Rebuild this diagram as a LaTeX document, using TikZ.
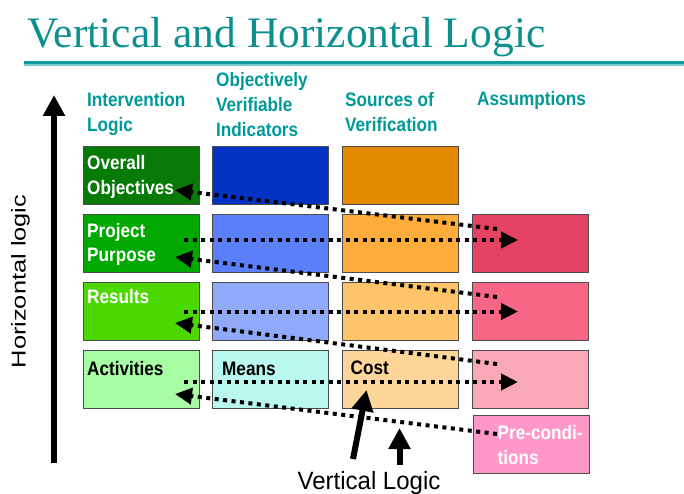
\documentclass[tikz,border=0pt]{standalone}
\usepackage{fontspec}
\setmainfont{Liberation Serif}
\newfontfamily\arialB[FakeStretch=0.88]{Liberation Sans}
\newfontfamily\arialH[FakeStretch=1.27]{Liberation Sans}
\newfontfamily\arialV[FakeStretch=0.96]{Liberation Sans}
\usetikzlibrary{arrows.meta}
\definecolor{titleteal}{RGB}{14,143,143}
\definecolor{hdrteal}{RGB}{0,153,153}
\definecolor{ruleteal}{RGB}{10,154,154}
\definecolor{rulelight}{RGB}{124,200,200}
\definecolor{cA1}{RGB}{8,122,8}
\definecolor{cB1}{RGB}{4,51,196}
\definecolor{cC1}{RGB}{227,138,0}
\definecolor{cA2}{RGB}{0,168,0}
\definecolor{cB2}{RGB}{90,127,248}
\definecolor{cC2}{RGB}{255,173,58}
\definecolor{cD2}{RGB}{228,66,98}
\definecolor{cA3}{RGB}{76,216,0}
\definecolor{cB3}{RGB}{144,168,248}
\definecolor{cC3}{RGB}{255,195,106}
\definecolor{cD3}{RGB}{248,102,134}
\definecolor{cA4}{RGB}{168,252,164}
\definecolor{cB4}{RGB}{184,248,238}
\definecolor{cC4}{RGB}{255,214,154}
\definecolor{cD4}{RGB}{248,168,182}
\definecolor{cPre}{RGB}{255,152,200}
\tikzset{
  box/.style={draw=black!70, line width=1pt, rectangle, minimum width=116pt,
    minimum height=58pt, inner sep=0pt, anchor=north west},
  hdr/.style={anchor=base west, inner sep=0pt, text=hdrteal,
    font=\arialB\bfseries\fontsize{19.5}{25}\selectfont},
  lblw/.style={anchor=base west, inner sep=0pt, text=white,
    font=\arialB\bfseries\fontsize{19.5}{25}\selectfont},
  lblk/.style={anchor=base west, inner sep=0pt, text=black,
    font=\arialB\bfseries\fontsize{19.5}{25}\selectfont},
  dotline/.style={line width=4pt, dash pattern=on 4pt off 4.5pt},
  dotarrow/.style={dotline, -{Triangle[length=17pt,width=16pt]}},
  bigarrow/.style={line width=6pt, -{Triangle[length=21pt,width=21pt]}}
}
\begin{document}
\begin{tikzpicture}[x=1pt,y=-1pt]
\useasboundingbox (0,0) rectangle (684,494);
% title
\node[anchor=base west, inner sep=0pt, text=titleteal, font=\fontsize{43.5}{50}\selectfont] (title) at (27,47.5) {Vertical and Horizontal Logic};
\fill[ruleteal] (24,61) rectangle (684,64.2);
\fill[rulelight] (24,64.2) rectangle (684,66);
% headers
\node[hdr] (h1a) at (87,107) {Intervention};
\node[hdr] (h1b) at (87,132) {Logic};
\node[hdr] (h2a) at (216,87) {Objectively};
\node[hdr] (h2b) at (216,112) {Verifiable};
\node[hdr] (h2c) at (216,137) {Indicators};
\node[hdr] (h3a) at (345,107) {Sources of};
\node[hdr] (h3b) at (345,132) {Verification};
\node[hdr] (h4a) at (477,106) {Assumptions};
% boxes
\node[box, fill=cA1] (a1) at (83,146) {};
\node[box, fill=cB1] (b1) at (212,146) {};
\node[box, fill=cC1] (c1) at (341.5,146) {};
\node[box, fill=cA2] (a2) at (83,213.5) {};
\node[box, fill=cB2] (b2) at (212,213.5) {};
\node[box, fill=cC2] (c2) at (341.5,213.5) {};
\node[box, fill=cD2] (d2) at (472,213.5) {};
\node[box, fill=cA3] (a3) at (83,281.5) {};
\node[box, fill=cB3] (b3) at (212,281.5) {};
\node[box, fill=cC3] (c3) at (341.5,281.5) {};
\node[box, fill=cD3] (d3) at (472,281.5) {};
\node[box, fill=cA4] (a4) at (83,349.5) {};
\node[box, fill=cB4] (b4) at (212,349.5) {};
\node[box, fill=cC4] (c4) at (341.5,349.5) {};
\node[box, fill=cD4] (d4) at (472,349.5) {};
\node[box, fill=cPre] (pre) at (472.5,415) {};
% box labels
\node[lblw] (t1a) at (87,170) {Overall};
\node[lblw] (t1b) at (87,195) {Objectives};
\node[lblw] (t2a) at (87,237) {Project};
\node[lblw] (t2b) at (87,261.5) {Purpose};
\node[lblw] (t3) at (87,303.5) {Results};
\node[lblk] (t4) at (87,375) {Activities};
\node[lblk] (tm) at (222,375) {Means};
\node[lblk] (tc) at (350.5,374) {Cost};
\node[lblw] (tpa) at (497.5,439) {Pre-condi-};
\node[lblw] (tpb) at (497.5,464) {tions};
% left big arrow and label
\coordinate (hl0) at (54,463);
\coordinate (hl1) at (54,95);
\draw[bigarrow] (hl0) -- (hl1);
\node[rotate=90, anchor=base, inner sep=0pt, font=\arialH\fontsize{20}{22}\selectfont] (hlab) at (25.5,281.5) {Horizontal logic};
% dotted connectors
\coordinate (s1) at (497,229);   \coordinate (e1) at (175,190);
\coordinate (s2) at (184,240);   \coordinate (e2) at (518,240);
\coordinate (s3) at (497,297);   \coordinate (e3) at (175,257);
\coordinate (s4) at (184,311.5); \coordinate (e4) at (518,311.5);
\coordinate (s5) at (497,364);   \coordinate (e5) at (175,323);
\coordinate (s6) at (184,382);   \coordinate (e6) at (518,382);
\coordinate (s7) at (497,434);   \coordinate (e7) at (175,394);
\draw[dotarrow] (s1) -- (e1);
\draw[dotarrow] (s2) -- (e2);
\draw[dotarrow] (s3) -- (e3);
\draw[dotarrow] (s4) -- (e4);
\draw[dotarrow] (s5) -- (e5);
\draw[dotarrow] (s6) -- (e6);
\draw[dotarrow] (s7) -- (e7);
% vertical logic
\coordinate (v0) at (353,459);
\coordinate (v1) at (366.5,390);
\coordinate (w0) at (399.5,465);
\coordinate (w1) at (399.5,428);
\draw[bigarrow] (v0) -- (v1);
\draw[bigarrow] (w0) -- (w1);
\node[anchor=base, inner sep=0pt, font=\arialV\fontsize{25}{28}\selectfont] (vlab) at (369,489) {Vertical Logic};
\end{tikzpicture}
\end{document}
